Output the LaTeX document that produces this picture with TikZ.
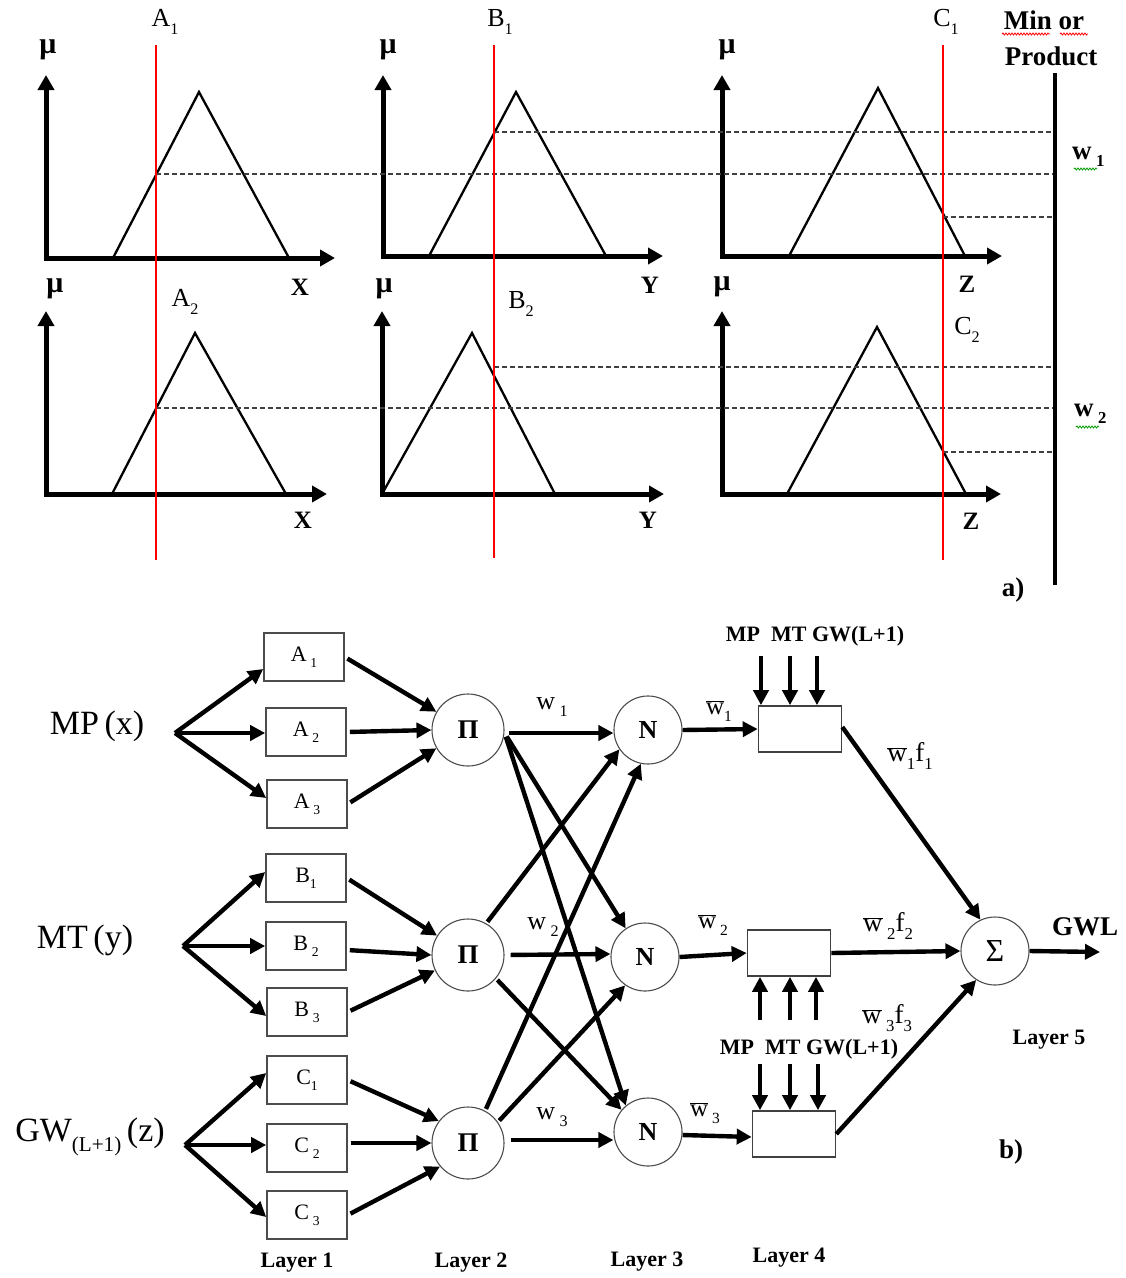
\documentclass[tikz,border=0pt]{standalone}
\usepackage{fontspec}
\setmainfont{Liberation Serif}
\usepackage{graphicx}
\usetikzlibrary{arrows.meta,decorations.pathmorphing}
\newcommand\fs[1]{\fontsize{#1}{#1}\selectfont}
\newcommand\lsub[2][0.62]{\raisebox{-0.28em}{\scalebox{#1}{#2}}}
\newcommand\wbar{$\overline{\hbox{w}}$}
\begin{document}
\begin{tikzpicture}[x=1pt,y=-1pt,
  ax/.style={line width=5pt,{Triangle[length=15pt,width=16pt]}-{Triangle[length=15pt,width=16pt]},line join=miter},
  mf/.style={line width=2.3pt,line join=miter},
  redl/.style={red,line width=2.2pt},
  dsh/.style={dash pattern=on 5pt off 3pt,line width=1.4pt,black!75},
  lbl/.style={inner sep=0pt,font=\fs{26}},
  blbl/.style={inner sep=0pt,font=\fs{25}\bfseries},
  mulbl/.style={inner sep=0pt,font=\fs{30}\bfseries},
  arr/.style={line width=4.4pt,-{Triangle[length=15pt,width=15pt]}},
  lbox/.style={draw=black!70,line width=1.6pt,minimum width=80pt,minimum height=48pt,inner sep=0pt,font=\fs{22}},
  emptybox/.style={draw=black!75,line width=1.6pt,minimum width=83pt,minimum height=46pt,inner sep=0pt},
  circ/.style={circle,draw=black!70,line width=1.1pt,inner sep=0pt},
  wavy/.style={decorate,decoration={snake,amplitude=1pt,segment length=3pt},line width=0.8pt},
]
\useasboundingbox (0,0) rectangle (1126,1278);

%% ---------- part a) ----------
% axes
\draw[ax] (46,75) -- (46,258) -- (335,258);
\draw[ax] (383,75) -- (383,256) -- (663,256);
\draw[ax] (722,75) -- (722,256) -- (1002,256);
\draw[ax] (46,311) -- (46,494) -- (327,494);
\draw[ax] (382,311) -- (382,494) -- (664,494);
\draw[ax] (722,311) -- (722,494) -- (1001,494);
% membership functions
\draw[mf] (113,258) -- (199,92) -- (289,258);
\draw[mf] (429,256) -- (516,92) -- (606,256);
\draw[mf] (789,256) -- (878,88) -- (965,256);
\draw[mf] (112,494) -- (195,333) -- (286,494);
\draw[mf] (382,494) -- (472,333) -- (555,494);
\draw[mf] (787,494) -- (877,327) -- (966,494);
% dashed levels
\draw[dsh] (156,174) -- (1055,174);
\draw[dsh] (494,132) -- (1055,132);
\draw[dsh] (943,217) -- (1055,217);
\draw[dsh] (156,408) -- (1055,408);
\draw[dsh] (494,367) -- (1055,367);
\draw[dsh] (943,452) -- (1055,452);
% red input lines
\draw[redl] (156,45) -- (156,560);
\draw[redl] (494,45) -- (494,558);
\draw[redl] (943,45) -- (943,560);
% min/product bar
\draw[line width=4.5pt] (1055,73) -- (1055,585);

% labels
\node[lbl] (lA1) at (165,22) {A\lsub{1}};
\node[lbl] (lB1) at (500,22) {B\lsub{1}};
\node[lbl] (lC1) at (946,22) {C\lsub{1}};
\node[lbl] (lA2) at (185,302) {A\lsub{2}};
\node[lbl] (lB2) at (521,304) {B\lsub{2}};
\node[lbl] (lC2) at (967,330) {C\lsub{2}};
\node[mulbl] (mu1) at (48,50) {μ};
\node[mulbl] (mu2) at (388,50) {μ};
\node[mulbl] (mu3) at (727,50) {μ};
\node[mulbl] (mu4) at (55,289) {μ};
\node[mulbl] (mu5) at (384,289) {μ};
\node[mulbl] (mu6) at (722,287) {μ};
\node[blbl] (X1) at (300,287) {X};
\node[blbl] (Y1) at (650,285) {Y};
\node[blbl] (Z1) at (967,284) {Z};
\node[blbl] (X2) at (303,520) {X};
\node[blbl] (Y2) at (648,520) {Y};
\node[blbl] (Z2) at (971,521) {Z};
\node[blbl,font=\fs{27}\bfseries] (minor) at (1044,20) {Min or};
\node[blbl,font=\fs{27}\bfseries] (prod) at (1051,56) {Product};
\draw[wavy,red] (1002,34) -- (1050,34);
\draw[wavy,red] (1060,34) -- (1088,34);
\node[blbl,font=\fs{27}\bfseries,anchor=west] (w1r) at (1072,157) {w\,\lsub{1}};
\node[blbl,font=\fs{27}\bfseries,anchor=west] (w2r) at (1074,414) {w\,\lsub{2}};
\draw[wavy,green!60!black] (1074,169) -- (1097,169);
\draw[wavy,green!60!black] (1076,427) -- (1099,427);
\node[blbl,font=\fs{27}\bfseries] (lba) at (1013,590) {a)};

%% ---------- part b) ----------
% inputs
\node[inner sep=0pt,font=\fs{34}] (MP) at (97,726) {MP\,(x)};
\node[inner sep=0pt,font=\fs{34}] (MT) at (85,940) {MT\,(y)};
\node[inner sep=0pt,font=\fs{34}] (GW) at (90,1137) {GW\lsub[0.62]{(L+1)}\,(z)};
\coordinate (fx) at (175,733);
\coordinate (fy) at (183,946);
\coordinate (fz) at (185,1145);

% layer 1
\node[lbox] (A1) at (304,657) {A\,\lsub{1}};
\node[lbox] (A2) at (306,732) {A\,\lsub{2}};
\node[lbox] (A3) at (307,804) {A\,\lsub{3}};
\node[lbox] (B1) at (306,878) {B\lsub{1}};
\node[lbox] (B2) at (306,946) {B\,\lsub{2}};
\node[lbox] (B3) at (307,1012) {B\,\lsub{3}};
\node[lbox] (C1) at (307,1080) {C\lsub{1}};
\node[lbox] (C2) at (307,1148) {C\,\lsub{2}};
\node[lbox] (C3) at (307,1215) {C\,\lsub{3}};

% layer 2
\node[circ,minimum size=72pt,font=\fs{27}\bfseries] (P1) at (468,730) {Π};
\node[circ,minimum size=72pt,font=\fs{27}\bfseries] (P2) at (468,955) {Π};
\node[circ,minimum size=72pt,font=\fs{27}\bfseries] (P3) at (468,1143) {Π};

% layer 3
\node[circ,minimum size=68pt,font=\fs{26}\bfseries] (N1) at (648,730) {N};
\node[circ,minimum size=68pt,font=\fs{26}\bfseries] (N2) at (645,957) {N};
\node[circ,minimum size=68pt,font=\fs{26}\bfseries] (N3) at (648,1132) {N};

% layer 4
\node[emptybox] (R1) at (800,729) {};
\node[emptybox] (R2) at (789,953) {};
\node[emptybox] (R3) at (794,1134) {};

% layer 5
\node[circ,minimum size=68pt,font=\fs{32}] (S) at (995,951) {Σ};
\coordinate (out) at (1100,952);

% fan-out arrows
\draw[arr] (fx) -- ([yshift=-12pt]A1.west);
\draw[arr] (fx) -- ([yshift=-1pt]A2.west);
\draw[arr] (fx) -- ([yshift=6pt]A3.west);
\draw[arr] (fy) -- ([yshift=6pt]B1.west);
\draw[arr] (fy) -- (B2.west);
\draw[arr] (fy) -- ([yshift=-4pt]B3.west);
\draw[arr] (fz) -- ([yshift=7pt]C1.west);
\draw[arr] (fz) -- ([yshift=3pt]C2.west);
\draw[arr] (fz) -- ([yshift=-2pt]C3.west);

% layer1 -> layer2
\draw[arr,shorten <=3pt] (A1.east) -- (P1.150);
\draw[arr,shorten <=3pt] (A2.east) -- (P1.west);
\draw[arr,shorten <=3pt] (A3.east) -- (P1.210);
\draw[arr,shorten <=3pt] (B1.east) -- (P2.148);
\draw[arr,shorten <=3pt] ([yshift=-4pt]B2.east) -- (P2.west);
\draw[arr,shorten <=3pt] (B3.east) -- (P2.205);
\draw[arr,shorten <=3pt] (C1.east) -- (P3.143);
\draw[arr,shorten <=3pt] ([yshift=5pt]C2.east) -- (P3.west);
\draw[arr,shorten <=3pt] (C3.east) -- (P3.220);

% layer2 -> layer3
\draw[arr,shorten <=4pt] ([yshift=-3pt]P1.east) -- ([yshift=-3pt]N1.west);
\draw[arr,shorten <=4pt] ([yshift=-3pt]P1.east) -- (N2.124);
\draw[arr,shorten <=4pt] ([yshift=-3pt]P1.east) -- (N3.130);
\draw[arr,shorten <=2pt] (P2.60) -- (N1.214);
\draw[arr,shorten <=6pt] (P2.east) -- ([yshift=3pt]N2.west);
\draw[arr,shorten <=2pt] (P2.-40) -- (N3.140);
\draw[arr,shorten <=2pt] (P3.62) -- (N1.258);
\draw[arr,shorten <=2pt] (P3.35) -- (N2.235);
\draw[arr,shorten <=6pt] ([yshift=3pt]P3.east) -- ([yshift=-8pt]N3.west);

% layer3 -> layer4
\draw[arr] (N1.east) -- (R1.west);
\draw[arr] (N2.east) -- (R2.west);
\draw[arr] ([yshift=-3pt]N3.east) -- ([yshift=-3pt]R3.west);

% layer4 -> layer5
\draw[arr] ([yshift=2pt]R1.east) -- (S.115);
\draw[arr] (R2.east) -- (S.west);
\draw[arr] (R3.east) -- (S.237);
\draw[arr] (S.east) -- (out);

% external inputs to layer 4
\foreach \dx in {-39,-10,17}
  \draw[arr] ([xshift=\dx pt,yshift=49pt]R1.north) -- ([xshift=\dx pt]R1.north);
\foreach \dx in {-29,1,27}
  \draw[arr] ([xshift=\dx pt,yshift=-43pt]R2.south) -- ([xshift=\dx pt]R2.south);
\foreach \dx in {-34,-4,24}
  \draw[arr] ([xshift=\dx pt,yshift=46pt]R3.north) -- ([xshift=\dx pt]R3.north);
\node[inner sep=0pt,font=\fs{22}\bfseries] (ext1) at (815,636) {MP\ \ MT GW(L+1)};
\node[inner sep=0pt,font=\fs{22}\bfseries] (ext2) at (809,1049) {MP\ \ MT GW(L+1)};

% weight labels
\node[inner sep=0pt,font=\fs{26}] (lw1) at (552,707) {w\,\lsub{1}};
\node[inner sep=0pt,font=\fs{26}] (lw2) at (543,927) {w\,\lsub{2}};
\node[inner sep=0pt,font=\fs{26}] (lw3) at (552,1117) {w\,\lsub{3}};
\node[inner sep=0pt,font=\fs{25}] (lnw1) at (719,711) {\wbar\lsub{1}};
\node[inner sep=0pt,font=\fs{25}] (lnw2) at (713,925) {\wbar\,\lsub{2}};
\node[inner sep=0pt,font=\fs{25}] (lnw3) at (705,1113) {\wbar\,\lsub{3}};
\node[inner sep=0pt,font=\fs{27}] (lf1) at (910,756) {\wbar\lsub{1}f\lsub{1}};
\node[inner sep=0pt,font=\fs{27}] (lf2) at (888,926) {\wbar\,\lsub{2}f\lsub{2}};
\node[inner sep=0pt,font=\fs{27}] (lf3) at (887,1018) {\wbar\,\lsub{3}f\lsub{3}};
\node[inner sep=0pt,font=\fs{27}\bfseries] (gwl) at (1085,927) {GWL};

% layer captions
\node[inner sep=0pt,font=\fs{22}\bfseries] (L1) at (297,1263) {Layer 1};
\node[inner sep=0pt,font=\fs{22}\bfseries] (L2) at (471,1263) {Layer 2};
\node[inner sep=0pt,font=\fs{22}\bfseries] (L3) at (647,1262) {Layer 3};
\node[inner sep=0pt,font=\fs{22}\bfseries] (L4) at (789,1258) {Layer 4};
\node[inner sep=0pt,font=\fs{22}\bfseries] (L5) at (1049,1040) {Layer 5};
\node[inner sep=0pt,font=\fs{27}\bfseries] (lbb) at (1011,1152) {b)};
\end{tikzpicture}
\end{document}
